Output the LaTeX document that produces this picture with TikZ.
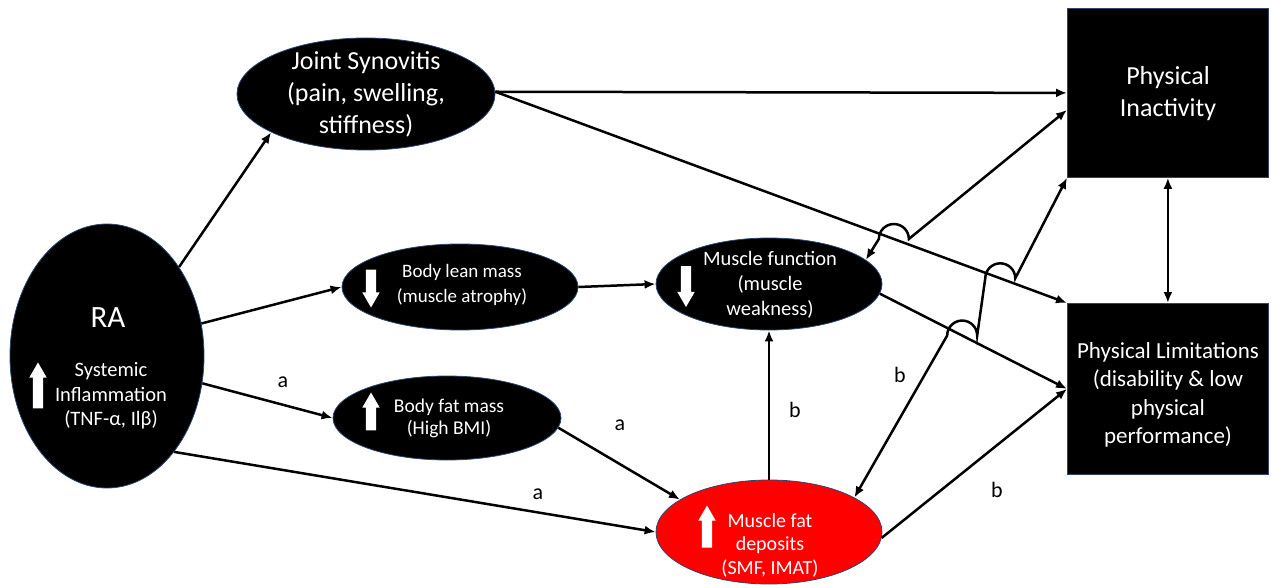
\documentclass[tikz,border=0pt]{standalone}
\usepackage{fontspec}
\setmainfont{Carlito}
\usetikzlibrary{arrows.meta,shapes.geometric,shapes.arrows,calc}
\tikzset{>={Latex[length=11pt,width=9pt]}}
\definecolor{rimblue}{RGB}{45,70,110}

\begin{document}
\begin{tikzpicture}[x=1pt,y=-1pt]

\tikzstyle{oval}=[ellipse,draw=rimblue,line width=0.8pt,fill=black,inner sep=0pt]
\tikzstyle{box}=[rectangle,draw=rimblue,line width=0.8pt,fill=black,inner sep=0pt,anchor=north west]
\tikzstyle{txt}=[text=white,align=center]
\tikzstyle{con}=[line width=2.5pt]
\tikzstyle{lbl}=[font=\fontsize{22}{26}\selectfont]
\tikzstyle{whitearrow}=[single arrow,fill=white,draw=none,inner sep=5pt,
                        minimum width=17pt,single arrow head extend=3.5pt,
                        single arrow tip angle=60]

\useasboundingbox (0,0) rectangle (1271,588);

% shapes
\node[oval,minimum width=194pt,minimum height=264pt] (ra) at (107,356) {};
\node[oval,minimum width=258pt,minimum height=112pt] (js) at (366,94) {};
\node[oval,minimum width=236pt,minimum height=86pt] (blm) at (460,287) {};
\node[oval,minimum width=226pt,minimum height=92pt] (mf) at (769,284) {};
\node[oval,minimum width=228pt,minimum height=84pt] (bfm) at (447,418) {};
\node[oval,fill=red,minimum width=226pt,minimum height=104pt] (mfd) at (769,532) {};
\node[box,minimum width=201pt,minimum height=169pt] (pi) at (1067,8) {};
\node[box,minimum width=201pt,minimum height=171pt] (pl) at (1067,303) {};

% texts
\node[txt,font=\fontsize{31}{36}\selectfont] (ratitle) at (108,318) {RA};
\node[txt,font=\fontsize{20.5}{24.5}\selectfont] (rasub) at (111,396)
     {Systemic\\Inflammation\\(TNF-α, Ilβ)};
\node[txt,font=\fontsize{26}{32}\selectfont] (jstxt) at (366,94)
     {Joint Synovitis\\(pain, swelling,\\stiffness)};
\node[txt,font=\fontsize{19}{25}\selectfont] (blmtxt) at (462,285)
     {Body lean mass\\(muscle atrophy)};
\node[txt,font=\fontsize{20.5}{25}\selectfont] (mftxt) at (770,285)
     {Muscle function\\(muscle\\weakness)};
\node[txt,font=\fontsize{19.5}{22}\selectfont] (bfmtxt) at (449,418)
     {Body fat mass\\(High BMI)};
\node[txt,font=\fontsize{20}{23.5}\selectfont] (mfdtxt) at (770,545)
     {Muscle fat\\deposits\\(SMF, IMAT)};
\node[txt,font=\fontsize{26}{32}\selectfont] (pitxt) at (1168,94)
     {Physical\\Inactivity};
\node[txt,font=\fontsize{23}{28.5}\selectfont] (pltxt) at (1168,395)
     {Physical Limitations\\(disability \& low\\physical\\performance)};

% white up/down arrows
\node[whitearrow,minimum height=46pt,shape border rotate=90] (raup) at (38,390) {};
\node[whitearrow,minimum height=38pt,shape border rotate=270] (blmdown) at (371,284) {};
\node[whitearrow,minimum height=41pt,shape border rotate=270] (mfdown) at (686,282) {};
\node[whitearrow,minimum height=38pt,shape border rotate=90] (bfmup) at (371,416) {};
\node[whitearrow,minimum height=42pt,shape border rotate=90] (mfdup) at (707,531) {};

% crossing points for the hops
\coordinate (piin) at ($(pi.west)+(0,17)$);
\coordinate (hopa) at (intersection cs: first line={(js.1)--(pl.north west)},
                                       second line={(mf.14)--(piin)});
\coordinate (hopb) at (intersection cs: first line={(js.1)--(pl.north west)},
                                       second line={(mfd.22)--(pi.south west)});
\coordinate (hopc) at (intersection cs: first line={(mf.-5)--(pl.west)},
                                       second line={(mfd.22)--(pi.south west)});

% connectors
\draw[con,->] (ra.51) -- (js.202);
\draw[con,->] (ra.19) -- (blm.west);
\draw[con,->] (ra.-16) -- (bfm.west);
\draw[con,->] (ra.-55) -- (mfd.west);
\draw[con,->] (js.1) -- (pi.west);
\draw[con,->] (js.1) -- (pl.north west);
\draw[con,->] (blm.east) -- (mf.west);
\draw[con,->] (bfm.-5) -- (mfd.160);
\draw[con,->] (mfd.north) -- (mf.south);
\draw[con,->] (mf.-5) -- (pl.west);
\draw[con,->] (mfd.-3) -- (pl.west);
\draw[con,<->] (pi.south) -- (pl.north);
\draw[con,<->] (mf.14) -- ($(hopa)-(15,0)$) arc[start angle=180,end angle=360,radius=15]
               -- (piin);
\draw[con,<->] (mfd.22) -- ($(hopc)-(15,0)$) arc[start angle=180,end angle=360,radius=15]
               -- ($(hopb)-(15,0)$) arc[start angle=180,end angle=360,radius=15]
               -- (pi.south west);

% labels
\node[lbl] (la1) at (283,382) {a};
\node[lbl] (la2) at (620,425) {a};
\node[lbl] (la3) at (538,494) {a};
\node[lbl] (lb1) at (795,410) {b};
\node[lbl] (lb2) at (900,375) {b};
\node[lbl] (lb3) at (997,490) {b};

\end{tikzpicture}
\end{document}
